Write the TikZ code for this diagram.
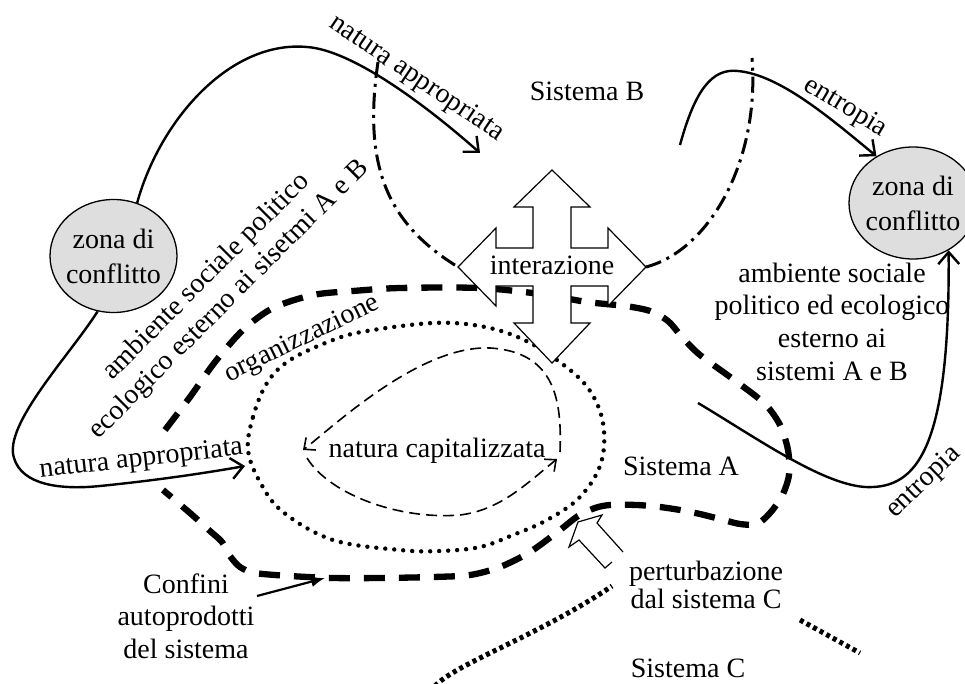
\documentclass[tikz,border=0pt]{standalone}
\usepackage{fontspec}
\setmainfont{Liberation Serif}
\usetikzlibrary{arrows.meta,shapes.geometric}

\begin{document}
\begin{tikzpicture}[x=1pt,y=-1pt,
  every node/.style={font=\fontsize{28}{33}\selectfont, inner sep=0pt},
  zone/.style={ellipse, draw, line width=1.3pt, fill=black!13, align=center,
    inner xsep=-12pt, inner ysep=0pt, font=\fontsize{28}{35}\selectfont},
  label/.style={anchor=base},
  flow/.style={line width=2.4pt, -{Straight Barb[length=12pt,width=21pt]}},
  sysB/.style={line width=3pt, dash pattern=on 16pt off 6pt on 3pt off 6pt},
  sysA/.style={line width=6.3pt, dash pattern=on 21pt off 14pt},
  orgline/.style={line width=4.4pt, line cap=round, dash pattern=on 0pt off 9pt},
  capline/.style={line width=1.6pt, dash pattern=on 11pt off 6pt,
    -{Straight Barb[length=9pt,width=16pt]}},
  sysC/.style={line width=5pt, dash pattern=on 4pt off 3.5pt},
  bigarrow/.style={draw=black, fill=white, line width=1.2pt, line join=miter},
]
\useasboundingbox (0,0) rectangle (965,684);
\clip (0,0) rectangle (965,684);

% conflict zones
\node[zone, minimum width=127pt, minimum height=113pt] (zl) at (113.5,256) {zona di\\conflitto};
\node[zone, minimum width=128pt, minimum height=112pt] (zr) at (913,203) {zona di\\conflitto};

% free ends of the connectors
\coordinate (apB) at (480,153);
\coordinate (apA) at (245,466);
\coordinate (enS) at (680,145);
\coordinate (enT) at (698,403);
\coordinate (bTopL) at (378,62);
\coordinate (bTopR) at (752,58);
\coordinate (iaL) at (458,267);
\coordinate (iaR) at (646,267);
\coordinate (cfS) at (257,596);
\coordinate (cfE) at (325,578);
\coordinate (capU) at (560,452);
\coordinate (capUe) at (303,450);
\coordinate (capL) at (307,458);
\coordinate (capLe) at (557,459);
\coordinate (cA) at (435,686);
\coordinate (cB) at (612,586);
\coordinate (cC) at (800,620);
\coordinate (cD) at (860,653);

% flows of appropriated nature
\draw[flow] (zl.66) .. controls (160,120) and (230,40) .. (307,47)
  .. controls (350,50) and (420,100) .. (apB);
\draw[flow] (zl.254) .. controls (70,355) and (3,425) .. (14,458)
  .. controls (22,485) and (60,490) .. (100,486)
  .. controls (150,481) and (200,474) .. (apA);

% entropy flows
\draw[flow] (enS) .. controls (695,90) and (712,68) .. (738,71)
  .. controls (780,75) and (830,118) .. (zr.128);
\draw[flow] (enT) .. controls (760,440) and (830,490) .. (873,487)
  .. controls (920,485) and (950,440) .. (zr.-53);

% boundary of system B
\draw[sysB] (bTopL) .. controls (362,170) and (390,225) .. (iaL);
\draw[sysB] (iaR) .. controls (710,250) and (760,160) .. (bTopR);

% self-produced boundary of system A
\draw[sysA] plot[smooth, tension=0.5] coordinates {
  (165,430) (190,397) (215,362) (243,330) (273,308) (313,295) (353,291)
  (400,288) (480,288) (540,294) (587,302) (625,306) (650,311) (668,321)
  (682,337) (700,355) (737,382) (765,404) (780,425) (788,450) (789,475)
  (782,496) (770,513) (757,524) (740,524) (720,519) (700,514) (680,510)
  (660,507) (637,505) (610,505) (595,508) (578,516) (560,530) (530,552)
  (500,567) (470,575) (433,577) (380,578) (333,578) (290,576) (255,573)
  (240,567) (230,556) (222,542) (210,531) (190,513) (163,490)};

% organisation
\draw[orgline] plot[smooth cycle, tension=0.6] coordinates {
  (248,450) (253,417) (267,383) (290,360) (333,340) (367,331) (433,323)
  (480,326) (520,338) (557,360) (588,388) (603,423) (601,463) (580,497)
  (547,520) (513,535) (480,547) (440,551) (400,550) (333,540) (283,512)
  (260,482)};

% capitalised nature cycle
\draw[capline] (capU) .. controls (562,400) and (555,352) .. (490,348)
  .. controls (420,345) and (335,425) .. (capUe);
\draw[capline] (capL) .. controls (330,495) and (400,520) .. (460,515)
  .. controls (500,510) and (525,485) .. (capLe);

% system C
\draw[sysC] (cA) .. controls (455,664) and (540,635) .. (cB);
\draw[sysC] (cC) -- (cD);

% interaction arrow
\draw[bigarrow] (552,170) -- (590,207) -- (571,207) -- (571,248) -- (608,248)
  -- (608,228) -- (646,267) -- (608,306) -- (608,286) -- (571,286)
  -- (571,323) -- (590,323) -- (552,363) -- (514,323) -- (533,323)
  -- (533,286) -- (496,286) -- (496,306) -- (458,267) -- (496,228)
  -- (496,248) -- (533,248) -- (533,207) -- (514,207) -- cycle;

% perturbation arrow
\path[bigarrow] (612,562) -- (605,568) -- (579,540) -- (569,547) -- (578,522)
  -- (602,515) -- (597,523) -- (623,552);

% boundary pointer
\draw[line width=2.2pt, -{Latex[length=14pt,width=11pt]}] (cfS) -- (cfE);

% labels
\node[label] (sB) at (587,101) {Sistema B};
\node[label] (sA) at (681,475) {Sistema A};
\node[label] (sC) at (688,677) {Sistema C};
\node[label] (inter) at (552,275) {interazione};
\node[label] (ncap) at (437,457) {natura capitalizzata};
\node[label, rotate=26] (org) at (305,345) {organizzazione};
\node[label, rotate=-34] (nat1) at (413,84) {natura appropriata};
\node[label, rotate=6.5] (nat2) at (142,466) {natura appropriata};
\node[label, rotate=-31] (ent1) at (842,113) {entropia};
\node[label, rotate=44] (ent2) at (928,487) {entropia};
\node[rotate=45, align=center, font=\fontsize{28}{32}\selectfont] (ambL) at (218,288.5)
  {ambiente sociale politico\\ecologico esterno ai sisetmi A e B};
\node[align=center, font=\fontsize{28}{32.7}\selectfont] (ambR) at (832,321.5)
  {ambiente sociale\\politico ed ecologico\\esterno ai\\sistemi A e B};
\node[align=center, font=\fontsize{28}{32.5}\selectfont] (conf) at (186,616)
  {Confini\\autoprodotti\\del sistema};
\node[align=center, font=\fontsize{28}{28}\selectfont] (pert) at (706,584.5)
  {perturbazione\\dal sistema C};
\end{tikzpicture}
\end{document}
